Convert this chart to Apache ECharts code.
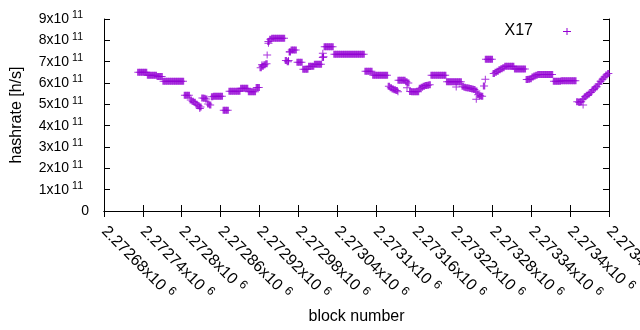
<!DOCTYPE html>
<html>
<head>
<meta charset="utf-8">
<script src="https://cdn.jsdelivr.net/npm/echarts@6/dist/echarts.min.js"></script>
<style>
  html, body { margin: 0; padding: 0; background: #fff; }
  #chart { width: 640px; height: 330px; }
</style>
</head>
<body>
<div id="chart"></div>
<script>
// block range of the x axis and tick step
var xMin = 2272680
var xMax = 2273460
var xStep = 60
// y axis, units of 1e11 h/s
var yMaxUnits = 9
// main run of points, one every 3 blocks starting at blockStart
var blockStart = 2272733
var blockStep = 3
var hashrate = [
  6.50, 6.50, 6.50, 6.50, 6.50, 6.36, 6.36, 6.36, 6.36, 6.36,
  6.31, 6.31, 6.31, 6.08, 6.08, 6.08, 6.08, 6.08, 6.08, 6.08,
  6.08, 6.08, 6.08, 6.08, 5.42, 5.42, 5.42, 5.20, 5.15, 5.10,
  5.00, 4.93, 4.88, 5.30, 5.28, 5.25, 5.02, 4.97, 5.36, 5.38,
  5.38, 5.38, 5.38, 5.38, 4.72, 4.72, 4.72, 5.61, 5.61, 5.61,
  5.61, 5.61, 5.61, 5.75, 5.75, 5.75, 5.75, 5.59, 5.59, 5.59,
  5.59, 5.79, 5.79, 6.72, 6.78, 6.85, 6.90, 7.95, 8.05, 8.10,
  8.10, 8.10, 8.10, 8.10, 8.10, 8.10, 7.05, 7.00, 7.45, 7.55,
  7.55, 7.55, 6.97, 6.97, 6.97, 6.64, 6.64, 6.64, 6.78, 6.78,
  6.78, 6.88, 6.88, 6.88, 6.88, 7.20, 7.70, 7.70, 7.70, 7.70,
  7.70, 7.35, 7.35, 7.35, 7.35, 7.35, 7.35, 7.35, 7.35, 7.35,
  7.35, 7.35, 7.35, 7.35, 7.35, 7.35, 7.35, 6.55, 6.55, 6.55,
  6.55, 6.36, 6.36, 6.36, 6.36, 6.36, 6.36, 6.36, 6.36, 5.85,
  5.78, 5.72, 5.68, 5.65, 6.13, 6.13, 6.13, 6.13, 6.06, 6.00,
  5.60, 5.59, 5.59, 5.59, 5.59, 5.75, 5.80, 5.85, 5.88, 5.90,
  5.92, 6.36, 6.36, 6.36, 6.36, 6.36, 6.36, 6.36, 6.36, 6.06,
  6.06, 6.06, 6.06, 6.06, 6.06, 6.06, 6.06, 5.85, 5.80, 5.78,
  5.76, 5.74, 5.72, 5.70, 5.62, 5.45, 5.40, 5.38, 5.86, 7.11,
  7.11, 7.11, 7.11, 6.45, 6.50, 6.55, 6.62, 6.67, 6.72, 6.78,
  6.78, 6.78, 6.78, 6.78, 6.66, 6.66, 6.66, 6.66, 6.66, 6.66,
  6.16, 6.18, 6.20, 6.28, 6.33, 6.36, 6.40, 6.40, 6.40, 6.40,
  6.40, 6.40, 6.40, 6.40, 6.08, 6.08, 6.08, 6.08, 6.11, 6.11,
  6.11, 6.11, 6.11, 6.11, 6.11, 6.11, 5.12, 5.10, 5.12, 5.25,
  5.35, 5.42, 5.48, 5.55, 5.68, 5.75, 5.82, 5.95, 6.08, 6.18,
  6.28, 6.38, 6.45
]
// stray points off the main run
var strayBlocks = [2272828, 2272924, 2272932, 2272934, 2272965, 2272967, 2273018,
  2273019, 2273134, 2273148, 2273224, 2273255, 2273269, 2273420]
var strayRates = [4.81, 6.85, 7.31, 7.86, 7.05, 7.47, 7.39,
  7.23, 5.59, 5.78, 5.81, 5.24, 6.18, 4.97]

var seriesName = 'X17'
var purple = '#9400d3'
var font = 'Liberation Sans'

var mainData = hashrate.map(function (v, i) {
  return [blockStart + blockStep * i, v * 1e11]
})
var strayData = strayBlocks.map(function (b, i) {
  return [b, strayRates[i] * 1e11]
})

// gnuplot style "+" (wide vertical arm so dense runs fill in)
var plusThick = 'path://M2.8,0H5.2V3H8V4H5.2V7H2.8V4H0V3H2.8Z'
var plusThin = 'path://M3.5,0H4.5V3H8V4H4.5V7H3.5V4H0V3H3.5Z'

var yRich = {
  b: { fontFamily: font, fontSize: 14, color: '#000', lineHeight: 18 },
  s: { fontFamily: font, fontSize: 10.5, color: '#000', verticalAlign: 'top', padding: [0, 6, 0, 3] }
}
var xRich = {
  b: { fontFamily: font, fontSize: 16, color: '#000', lineHeight: 20 },
  s: { fontFamily: font, fontSize: 12, color: '#000', verticalAlign: 'top', padding: [0, 0, 0, 5] }
}

var chart = echarts.init(document.getElementById('chart'), null, { renderer: 'canvas' })

var tickStyle = { show: true, inside: true, length: 6, lineStyle: { color: '#000', width: 1 } }
var lineStyle = { show: true, lineStyle: { color: '#000', width: 1 } }

var option = {
  animation: false,
  backgroundColor: '#fff',
  textStyle: { fontFamily: font },
  grid: { left: 104, right: 31, top: 19, bottom: 119, containLabel: false, outerBoundsMode: 'none' },
  xAxis: [
    {
      type: 'value',
      position: 'bottom',
      min: xMin,
      max: xMax,
      interval: xStep,
      name: 'block number',
      nameLocation: 'middle',
      nameGap: 98,
      nameTextStyle: { fontFamily: font, fontSize: 16, color: '#000' },
      axisLine: lineStyle,
      axisTick: tickStyle,
      splitLine: { show: false },
      axisLabel: {
        rotate: -45,
        margin: 18,
        hideOverlap: false,
        showMinLabel: true,
        showMaxLabel: true,
        formatter: function (v) {
          var s = String(parseFloat((v / 1e6).toFixed(5)))
          return '{b|' + s + 'x10}{s|6}'
        },
        rich: xRich
      }
    },
    {
      type: 'value',
      position: 'top',
      min: xMin,
      max: xMax,
      interval: xStep,
      axisLine: lineStyle,
      axisTick: tickStyle,
      axisLabel: { show: false },
      splitLine: { show: false }
    }
  ],
  yAxis: [
    {
      type: 'value',
      position: 'left',
      min: 0,
      max: yMaxUnits * 1e11,
      interval: 1e11,
      name: 'hashrate [h/s]',
      nameLocation: 'middle',
      nameGap: 79,
      nameTextStyle: { fontFamily: font, fontSize: 16, color: '#000' },
      axisLine: lineStyle,
      axisTick: tickStyle,
      splitLine: { show: false },
      axisLabel: {
        margin: 15,
        formatter: function (v) {
          var n = Math.round(v / 1e11)
          if (n === 0) return '{b|0}'
          return '{b|' + n + 'x10}{s|11}'
        },
        rich: yRich
      }
    },
    {
      type: 'value',
      position: 'right',
      min: 0,
      max: yMaxUnits * 1e11,
      interval: 1e11,
      axisLine: lineStyle,
      axisTick: tickStyle,
      axisLabel: { show: false },
      splitLine: { show: false }
    }
  ],
  graphic: [
    {
      type: 'text',
      right: 640 - 533,
      top: 23,
      style: { text: seriesName, fontFamily: font, fontSize: 16, fill: '#000' }
    },
    { type: 'rect', shape: { x: 563, y: 31, width: 8, height: 1 }, style: { fill: purple } },
    { type: 'rect', shape: { x: 566.5, y: 28, width: 1, height: 7 }, style: { fill: purple } }
  ],
  series: [
    {
      name: seriesName,
      type: 'scatter',
      data: mainData,
      symbol: plusThick,
      symbolSize: [8, 7],
      itemStyle: { color: purple },
      xAxisIndex: 0,
      yAxisIndex: 0
    },
    {
      name: seriesName,
      type: 'scatter',
      data: strayData,
      symbol: plusThin,
      symbolSize: [8, 7],
      itemStyle: { color: purple },
      xAxisIndex: 0,
      yAxisIndex: 0
    }
  ]
}

chart.setOption(option)
</script>
</body>
</html>
